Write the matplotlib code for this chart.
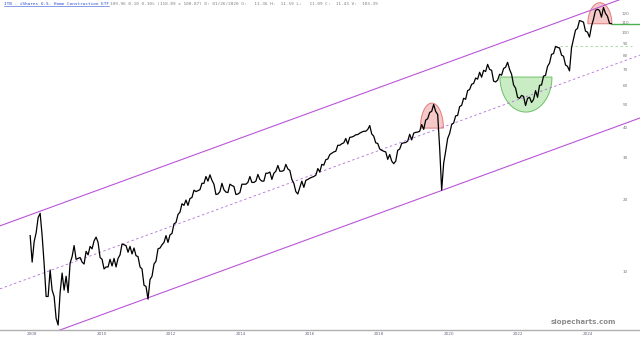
import matplotlib
matplotlib.use("Agg")
import matplotlib.pyplot as plt
import matplotlib.dates as mdates
import matplotlib.transforms as mtransforms
from matplotlib.patches import Polygon
from matplotlib.lines import Line2D
import numpy as np
import pandas as pd

start_date = "2008-05-13"
prices = [
    14.2, 11.0, 13.4, 14.6, 16.9, 17.6, 14.2, 10.8, 7.9, 7.9,
    10.2, 8.4, 7.9, 6.4, 6.0, 8.2, 9.9, 8.4, 9.6, 8.2,
    10.9, 11.6, 12.9, 11.3, 11.4, 11.5, 11.0, 10.8, 12.2, 11.8,
    12.8, 12.5, 13.5, 14.0, 13.3, 11.5, 11.3, 10.3, 10.5, 10.5,
    11.3, 10.6, 11.4, 10.5, 11.4, 11.8, 13.1, 13.0, 12.9, 12.1,
    12.8, 11.9, 12.6, 11.7, 11.6, 10.5, 10.3, 8.8, 8.7, 7.7,
    9.3, 9.6, 10.8, 11.1, 12.5, 12.6, 13.0, 13.3, 14.2, 13.3,
    14.3, 14.5, 15.9, 16.1, 17.4, 17.8, 19.3, 19.0, 20.0, 19.0,
    20.3,
    20.5, 22.0, 21.7, 21.9, 22.1, 23.5, 23.5, 25.1, 24.0, 25.5,
    24.2, 23.3, 21.1, 21.2, 21.7, 23.5, 22.1, 21.6, 21.5, 23.3,
    23.0, 22.8, 21.1, 21.2, 21.5, 23.3, 23.3, 23.3, 23.7, 25.1,
    23.7, 23.7, 24.0, 25.6, 24.4, 24.0, 24.0, 25.9, 25.9, 26.2,
    24.4, 25.9, 26.4, 27.9, 26.4, 26.4, 26.6, 28.2, 27.0, 26.6,
    24.4, 23.5, 21.7, 21.2, 22.6, 24.0, 22.6, 24.2, 24.4, 24.7,
    24.9, 25.1, 25.4, 27.1, 26.2, 28.2, 28.0, 29.5, 29.7, 31.0,
    31.4, 31.8, 32.0, 33.9, 33.9, 34.4, 34.7, 36.2, 34.3, 36.6,
    36.7, 37.0, 37.5, 37.6, 38.1, 38.5, 38.8, 38.8, 39.5, 41.0,
    37.8, 37.0, 34.7, 34.5, 32.7, 32.3, 32.0, 31.8, 29.6, 31.0,
    29.1, 28.4, 29.1, 32.3, 32.7, 34.5, 34.7, 34.8, 35.3, 37.7,
    35.7, 38.1, 38.4, 38.5, 38.8, 41.4, 39.5, 43.2, 43.8, 46.5,
    47.0, 50.2, 47.0, 45.6, 33.0, 22.0, 28.5, 32.0, 36.2, 38.0,
    41.4, 42.0, 45.0, 45.2, 49.2, 49.8, 53.3, 52.8, 57.4, 58.0,
    61.0, 61.5, 64.8, 64.1, 68.5, 65.3, 69.8, 69.0, 73.9, 70.4,
    69.8, 62.9, 62.4, 63.5, 67.2, 66.6, 71.0, 71.9, 75.4, 70.4,
    67.2, 60.6, 58.8, 53.8, 53.3, 54.8, 54.3, 49.7, 53.3, 53.8,
    51.2, 52.7, 57.4, 53.8, 60.4, 60.6, 66.0, 66.5, 72.5, 74.8,
    81.4, 82.0, 87.9, 87.0, 86.6, 80.8, 79.9, 73.5, 72.5, 69.4,
    86.6, 94.2, 102.8, 104.5, 112.7, 112.0, 111.0, 101.8, 100.8, 96.1,
    106.8, 114.2, 124.3, 125.6, 124.3, 116.4, 127.9, 120.8, 117.5, 109.8,
    109.3,
]

# channel lines: (date, price) at both ends
channel_dates = ["2007-07-01", "2025-12-01"]
upper_line = [15.6, 148.0]
middle_line = [8.5, 80.8]
lower_line = [4.63, 44.1]

support_level = 109.3
support_start = "2025-02-10"
old_high = 88.2
old_high_span = ["2023-06-20", "2025-09-10"]

ytick_values = [10, 20, 30, 40, 50, 60, 70, 80, 90, 100, 110, 120]
xtick_dates = ["%d-06-01" % y for y in range(2008, 2025, 2)]
xtick_labels = [str(y) for y in range(2008, 2025, 2)]

title = "ITB - iShares U.S. Home Construction ETF"
info = "109.96 0.10 0.10% (118.89 x 100.87) D: 01/26/2020 O:   11.36 H:  11.59 L:   11.09 C:  11.43 V:  103.39"

dates = pd.date_range(start_date, periods=len(prices), freq="21D")
cd = pd.to_datetime(channel_dates)

fig = plt.figure(figsize=(6.4, 3.41), dpi=100)
ax = fig.add_axes([0, 11 / 341, 1, 330 / 341])
ax.set_yscale("log")
ax.set_ylim(5.72, 137.4)
ax.set_xlim(pd.Timestamp("2007-07-01"), pd.Timestamp("2025-12-01"))

purple = "#bb55d8"
ax.plot(cd, upper_line, color=purple, lw=0.8)
ax.plot(cd, lower_line, color=purple, lw=0.8)
ax.plot(cd, middle_line, color="#b070d8", lw=0.6, dashes=(3, 3))

ax.plot([pd.Timestamp(support_start), pd.Timestamp("2025-12-01")], [support_level] * 2,
        color="#4caf50", lw=1.0)
ax.plot(pd.to_datetime(old_high_span), [old_high] * 2, color="#9fd79a", lw=0.6, dashes=(3, 3))

ax.plot(dates, prices, color="black", lw=0.9)


def half_ellipse(date, price, half_w, height, up, face, edge):
    p = ax.transData.transform((mdates.date2num(pd.Timestamp(date)), price))
    cx, cy = ax.transAxes.inverted().transform(p)
    t = np.linspace(0, np.pi, 60)
    if not up:
        t = -t
    pts = np.column_stack([cx + half_w / 640 * np.cos(t), cy + height / 330 * np.sin(t)])
    ax.add_patch(Polygon(pts, closed=True, transform=ax.transAxes,
                         facecolor=face, edgecolor=edge, lw=0.7, zorder=1))


half_ellipse("2019-12-05", 40.0, 11.5, 25, True, "#f6c9c9", "#e07b7b")
half_ellipse("2024-10-05", 109.3, 12, 21, True, "#f6c9c9", "#e07b7b")
half_ellipse("2022-08-20", 65.4, 26, 35, False, "#c9ecc4", "#6cc163")

for side in ["top", "left", "right"]:
    ax.spines[side].set_visible(False)
ax.spines["bottom"].set_color("#b0b0b0")
ax.spines["bottom"].set_linewidth(1.0)

ax.yaxis.set_major_locator(matplotlib.ticker.NullLocator())
ax.yaxis.set_minor_locator(matplotlib.ticker.NullLocator())
trans = mtransforms.blended_transform_factory(ax.transAxes, ax.transData)
for v in ytick_values:
    ax.text(0.977, v, str(v), transform=trans, ha="center", va="center",
            fontsize=3, color="#777777")

ax.set_xticks(pd.to_datetime(xtick_dates))
ax.set_xticklabels(xtick_labels)
ax.tick_params(axis="x", length=0, pad=1.5, labelsize=3, labelcolor="#6a6a8a")

t1 = fig.text(0.006, 0.988, title, ha="left", va="center", fontsize=3.2,
              family="DejaVu Sans Mono", color="#2a4fd0")
fig.canvas.draw()
bb = t1.get_window_extent()
fig.add_artist(Line2D([bb.x0 / 640, bb.x1 / 640], [(bb.y0 - 0.3) / 341] * 2,
                      color="#2a4fd0", lw=0.4))
fig.text(0.172, 0.988, info, ha="left", va="center", fontsize=3.2,
         family="DejaVu Sans Mono", color="#808080")

fig.text(0.911, 0.055, "slopecharts.com", ha="center", va="center", fontsize=5,
         weight="bold", color="#8c8c8c")

fig.savefig("out.png", dpi=100)
